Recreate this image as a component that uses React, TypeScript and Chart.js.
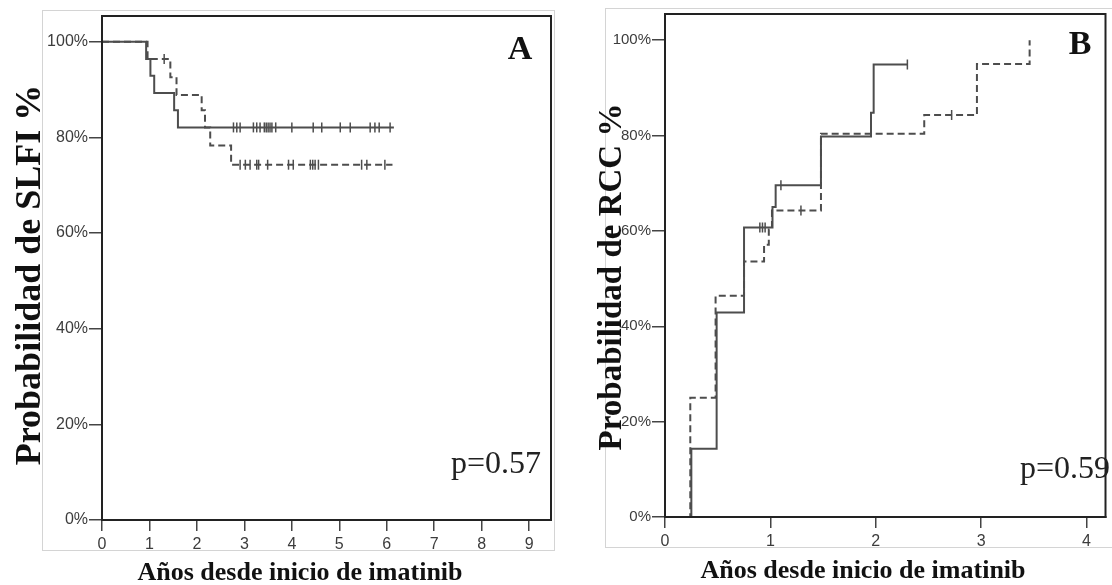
import React, { useEffect, useRef } from "react";
import { Chart, registerables } from "chart.js";

Chart.register(...registerables);

// ---------- DATA ----------
const yTickValues = [0, 20, 40, 60, 80, 100];
const xTicksA = [0, 1, 2, 3, 4, 5, 6, 7, 8, 9];
const xTicksB = [0, 1, 2, 3, 4];

// Panel A: Probabilidad de SLFI (Kaplan-Meier, survival)
const solidA_t = [0, 0.93, 1.02, 1.1, 1.52, 1.6, 6.15];
const solidA_v = [100, 96.4, 92.9, 89.3, 85.7, 82.1, 82.1];
const dashedA_t = [0, 0.96, 1.44, 1.57, 2.1, 2.17, 2.28, 2.72, 6.12];
const dashedA_v = [100, 96.4, 92.6, 88.9, 85.7, 82.1, 78.3, 74.3, 74.3];
const censorSolidA_t = [2.77, 2.84, 2.91, 3.19, 3.26, 3.33, 3.42, 3.46, 3.5, 3.54, 3.58, 3.66, 4.0, 4.45, 4.63, 5.02, 5.23, 5.65, 5.75, 5.84, 6.07];
const censorSolidA_v = 82.1;
const censorDashedA_t = [1.31, 2.91, 3.02, 3.12, 3.26, 3.3, 3.49, 3.93, 4.03, 4.39, 4.44, 4.49, 4.56, 5.47, 5.58, 5.96];
const censorDashedA_v = [96.4, 74.3, 74.3, 74.3, 74.3, 74.3, 74.3, 74.3, 74.3, 74.3, 74.3, 74.3, 74.3, 74.3, 74.3, 74.3];

// Panel B: Probabilidad de RCC (cumulative incidence)
const solidB_t = [0, 0.25, 0.49, 0.75, 1.02, 1.05, 1.48, 1.955, 1.98, 2.3];
const solidB_v = [0, 14.3, 42.9, 60.7, 65.0, 69.6, 79.8, 84.8, 94.9, 94.9];
const dashedB_t = [0, 0.24, 0.48, 0.75, 0.94, 0.985, 1.015, 1.48, 2.46, 2.96, 3.46];
const dashedB_v = [0, 25.0, 46.4, 53.6, 57.1, 60.3, 64.3, 80.4, 84.3, 95.0, 100];
const censorSolidB_t = [0.9, 0.925, 0.95, 1.1, 2.3];
const censorSolidB_v = [60.7, 60.7, 60.7, 69.6, 94.9];
const censorDashedB_t = [1.29, 2.72];
const censorDashedB_v = [64.3, 84.3];

const pValueA = "p=0.57";
const pValueB = "p=0.59";
const yTitleA = "Probabilidad de SLFI %";
const yTitleB = "Probabilidad de RCC %";
const xTitle = "Años desde inicio de imatinib";

// ---------- STYLE ----------
const CURVE = "#4d4d4d";
const AXIS = "#222";
const TICKTXT = "#3c3c3c";
const SANS = "'Liberation Sans', Arial, sans-serif";
const SERIF = "'Liberation Serif', 'Times New Roman', serif";

type PanelCfg = {
  left: number;
  width: number;
  height: number;
  area: { left: number; right: number; top: number; bottom: number };
  xMax: number;
  yMax: number;
  xTicks: number[];
  tickFont: number;
  solid: { t: number[]; v: number[] };
  dashed: { t: number[]; v: number[] };
  censorSolid: { x: number; y: number }[];
  censorDashed: { x: number; y: number }[];
  frame: { x0: number; y0: number; x1: number; y1: number };
  yTitle: string;
  yTitleFont: number;
  yTitleBaseX: number;
  yTitleY: number;
  xTitlePos: { x: number; y: number };
  letter: string;
  letterPos: { x: number; y: number };
  pText: string;
  pPos: { x: number; y: number };
};

const pts = (t: number[], v: number[]) => t.map((x, i) => ({ x, y: v[i] }));

const decorPlugin = (cfg: PanelCfg) => ({
  id: "decor",
  afterDraw(chart: any) {
    const ctx = chart.ctx as CanvasRenderingContext2D;
    const a = chart.chartArea;
    ctx.save();
    // outer light frame
    ctx.strokeStyle = "#d4d4d4";
    ctx.lineWidth = 1;
    ctx.strokeRect(cfg.frame.x0 + 0.5, cfg.frame.y0 + 0.5, cfg.frame.x1 - cfg.frame.x0, cfg.frame.y1 - cfg.frame.y0);
    // plot box
    ctx.strokeStyle = AXIS;
    ctx.lineWidth = 2;
    ctx.strokeRect(a.left, a.top, a.right - a.left, a.bottom - a.top);
    // y title (baseline on the right side after rotation)
    ctx.fillStyle = "#111";
    ctx.font = `bold ${cfg.yTitleFont}px ${SERIF}`;
    ctx.textAlign = "center";
    ctx.textBaseline = "alphabetic";
    ctx.save();
    ctx.translate(cfg.yTitleBaseX, cfg.yTitleY);
    ctx.rotate(-Math.PI / 2);
    ctx.fillText(cfg.yTitle, 0, 0);
    ctx.restore();
    // x title
    ctx.font = `bold 26px ${SERIF}`;
    ctx.fillText(xTitle, cfg.xTitlePos.x, cfg.xTitlePos.y);
    // panel letter
    ctx.font = `bold 34px ${SERIF}`;
    ctx.fillText(cfg.letter, cfg.letterPos.x, cfg.letterPos.y);
    // p value
    ctx.font = `32px ${SERIF}`;
    ctx.fillStyle = "#222";
    ctx.textAlign = "right";
    ctx.fillText(cfg.pText, cfg.pPos.x, cfg.pPos.y);
    ctx.restore();
  },
});

function Panel({ cfg }: { cfg: PanelCfg }) {
  const ref = useRef<HTMLCanvasElement>(null);
  useEffect(() => {
    if (!ref.current) return;
    const lineDs = (d: { t: number[]; v: number[] }, dash: number[]) => ({
      data: pts(d.t, d.v),
      showLine: true,
      stepped: true,
      borderColor: CURVE,
      borderWidth: 2,
      borderDash: dash,
      pointRadius: 0,
      fill: false,
    });
    const censorDs = (d: { x: number; y: number }[]) => ({
      data: d,
      showLine: false,
      pointStyle: "line",
      rotation: 90,
      pointRadius: 5,
      borderColor: CURVE,
      borderWidth: 1.5,
      backgroundColor: CURVE,
    });
    const chart = new Chart(ref.current, {
      type: "scatter",
      data: {
        datasets: [
          lineDs(cfg.solid, []),
          lineDs(cfg.dashed, [7, 4]),
          censorDs(cfg.censorSolid),
          censorDs(cfg.censorDashed),
        ] as any,
      },
      options: {
        animation: false,
        responsive: false,
        maintainAspectRatio: false,
        layout: {
          padding: { left: 0, top: cfg.area.top, right: cfg.width - cfg.area.right, bottom: 0 },
        },
        plugins: { legend: { display: false }, tooltip: { enabled: false } },
        scales: {
          x: {
            type: "linear",
            min: 0,
            max: cfg.xMax,
            afterFit: (s: any) => {
              s.height = cfg.height - cfg.area.bottom;
            },
            afterBuildTicks: (s: any) => {
              s.ticks = cfg.xTicks.map((v) => ({ value: v }));
            },
            ticks: {
              callback: (v: any) => String(v),
              font: { family: SANS, size: 16 },
              color: TICKTXT,
              padding: 4,
              maxRotation: 0,
              autoSkip: false,
            },
            grid: { drawOnChartArea: false, drawTicks: true, tickLength: 11, color: "#444", lineWidth: 1.5 },
            border: { display: true, color: AXIS, width: 2 },
          },
          y: {
            type: "linear",
            min: 0,
            max: cfg.yMax,
            afterFit: (s: any) => {
              s.width = cfg.area.left;
            },
            afterBuildTicks: (s: any) => {
              s.ticks = yTickValues.map((v) => ({ value: v }));
            },
            ticks: {
              callback: (v: any) => `${v}%`,
              font: { family: SANS, size: cfg.tickFont },
              color: TICKTXT,
              padding: 1,
              autoSkip: false,
            },
            grid: { drawOnChartArea: false, drawTicks: true, tickLength: 13, color: "#444", lineWidth: 1.5 },
            border: { display: true, color: AXIS, width: 2 },
          },
        },
      } as any,
      plugins: [decorPlugin(cfg)],
    });
    return () => chart.destroy();
  }, [cfg]);
  return (
    <canvas
      ref={ref}
      width={cfg.width}
      height={cfg.height}
      style={{ position: "absolute", left: cfg.left, top: 0, width: cfg.width, height: cfg.height }}
    />
  );
}

const panelA: PanelCfg = {
  left: 0,
  width: 560,
  height: 585,
  area: { left: 102, right: 551, top: 16, bottom: 520 },
  xMax: 9.46,
  yMax: 105.4,
  xTicks: xTicksA,
  tickFont: 16,
  solid: { t: solidA_t, v: solidA_v },
  dashed: { t: dashedA_t, v: dashedA_v },
  censorSolid: censorSolidA_t.map((x) => ({ x, y: censorSolidA_v })),
  censorDashed: pts(censorDashedA_t, censorDashedA_v),
  frame: { x0: 42, y0: 10, x1: 554, y1: 550 },
  yTitle: yTitleA,
  yTitleFont: 36,
  yTitleBaseX: 40,
  yTitleY: 275,
  xTitlePos: { x: 300, y: 580 },
  letter: "A",
  letterPos: { x: 520, y: 59 },
  pText: pValueA,
  pPos: { x: 541, y: 473 },
};

const panelB: PanelCfg = {
  left: 560,
  width: 552,
  height: 585,
  area: { left: 105, right: 550, top: 14, bottom: 517 },
  xMax: 4.18,
  yMax: 105.5,
  xTicks: xTicksB,
  tickFont: 15,
  solid: { t: solidB_t, v: solidB_v },
  dashed: { t: dashedB_t, v: dashedB_v },
  censorSolid: pts(censorSolidB_t, censorSolidB_v),
  censorDashed: pts(censorDashedB_t, censorDashedB_v),
  frame: { x0: 45, y0: 8, x1: 560, y1: 547 },
  yTitle: yTitleB,
  yTitleFont: 33,
  yTitleBaseX: 61,
  yTitleY: 277,
  xTitlePos: { x: 303, y: 578 },
  letter: "B",
  letterPos: { x: 520, y: 54 },
  pText: pValueB,
  pPos: { x: 550, y: 478 },
};

export default function App() {
  return (
    <div style={{ position: "fixed", left: 0, top: 0, width: 1112, height: 585, background: "#fff", overflow: "hidden" }}>
      <Panel cfg={panelA} />
      <Panel cfg={panelB} />
    </div>
  );
}
